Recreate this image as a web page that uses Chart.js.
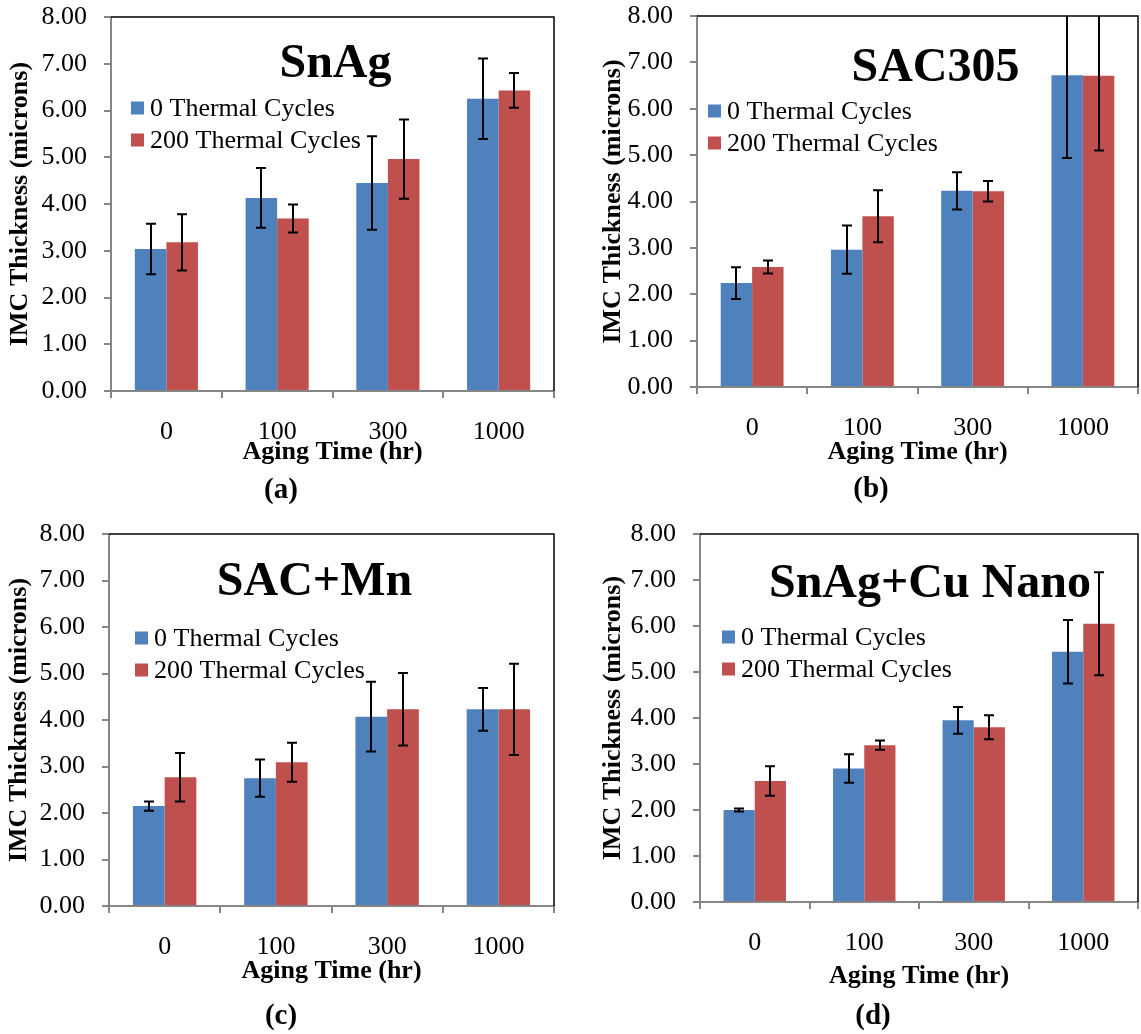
<!DOCTYPE html>
<html>
<head>
<meta charset="utf-8">
<title>IMC Thickness vs Aging Time</title>
<script src="https://cdn.jsdelivr.net/npm/chart.js@4.4.1/dist/chart.umd.min.js"></script>
<style>
  html, body { margin: 0; padding: 0; background: #fff; }
  #page { position: relative; width: 1141px; height: 1034px; overflow: hidden; }
  #page canvas { position: absolute; }
</style>
</head>
<body>
<div id="page">
  <canvas id="chartA" width="570" height="510" style="left:0;top:0"></canvas>
  <canvas id="chartB" width="571" height="510" style="left:570px;top:0"></canvas>
  <canvas id="chartC" width="570" height="524" style="left:0;top:510px"></canvas>
  <canvas id="chartD" width="571" height="524" style="left:570px;top:510px"></canvas>
</div>
<script>
// Categories and series names
const agingTimes = ['0', '100', '300', '1000'];
const seriesNames = ['0 Thermal Cycles', '200 Thermal Cycles'];
const seriesColors = ['#4F81BD', '#C0504D'];

// y axis: 0.00 .. 8.00 step 1
const yMin = 0;
const yMax = 8;
const yStep = 1;

// (a) SnAg
const snAg0 = [3.04, 4.13, 4.45, 6.25];
const snAg0Err = [0.54, 0.64, 1.00, 0.86];
const snAg200 = [3.18, 3.69, 4.96, 6.43];
const snAg200Err = [0.60, 0.30, 0.85, 0.37];

// (b) SAC305
const sac305_0 = [2.24, 2.96, 4.23, 6.72];
const sac305_0Err = [0.34, 0.52, 0.40, 1.78];
const sac305_200 = [2.59, 3.68, 4.22, 6.71];
const sac305_200Err = [0.14, 0.56, 0.22, 1.61];

// (c) SAC+Mn
const sacMn0 = [2.15, 2.75, 4.07, 4.23];
const sacMn0Err = [0.10, 0.40, 0.75, 0.46];
const sacMn200 = [2.77, 3.09, 4.23, 4.23];
const sacMn200Err = [0.52, 0.42, 0.78, 0.98];

// (d) SnAg+Cu Nano
const snAgCu0 = [2.00, 2.90, 3.95, 5.44];
const snAgCu0Err = [0.03, 0.31, 0.29, 0.69];
const snAgCu200 = [2.63, 3.41, 3.80, 6.05];
const snAgCu200Err = [0.32, 0.10, 0.26, 1.12];

const FONT = "'Liberation Serif', 'Times New Roman', serif";
const AXIS_GREY = '#868686';

// Panel layout (pixel boxes and text placement)
const panels = [
  { id: 'chartA', title: 'SnAg', caption: '(a)',
    values: [snAg0, snAg200], errors: [snAg0Err, snAg200Err],
    box: { top: 17, right: 16, yWidth: 111, xHeight: 119, yTitlePad: 5, xTitlePad: 42 },
    deco: { titleDx: 3, titleBase: 60, legendX: 20, legendY: 91, capX: 281, capY: 491 } },
  { id: 'chartB', title: 'SAC305', caption: '(b)',
    values: [sac305_0, sac305_200], errors: [sac305_0Err, sac305_200Err],
    box: { top: 16, right: 3, yWidth: 127, xHeight: 123, yTitlePad: 28, xTitlePad: 42 },
    deco: { titleDx: 18, titleBase: 65, legendX: 11, legendY: 95, capX: 301, capY: 490 } },
  { id: 'chartC', title: 'SAC+Mn', caption: '(c)',
    values: [sacMn0, sacMn200], errors: [sacMn0Err, sacMn200Err],
    box: { top: 24, right: 16, yWidth: 109, xHeight: 128, yTitlePad: 4, xTitlePad: 47 },
    deco: { titleDx: -17, titleBase: 61, legendX: 26, legendY: 104, capX: 281, capY: 507 } },
  { id: 'chartD', title: 'SnAg+Cu Nano', caption: '(d)',
    values: [snAgCu0, snAgCu200], errors: [snAgCu0Err, snAgCu200Err],
    box: { top: 24, right: 3, yWidth: 130, xHeight: 132, yTitlePad: 28, xTitlePad: 42 },
    deco: { titleDx: 11, titleBase: 63, legendX: 22, legendY: 103, capX: 303, capY: 507 } }
];

// Error bars drawn from the y scale
const errorBars = {
  id: 'errorBars',
  afterDatasetsDraw(chart) {
    const { ctx, chartArea, scales: { y } } = chart;
    ctx.save();
    ctx.beginPath();
    ctx.rect(chartArea.left, chartArea.top, chartArea.width, chartArea.height);
    ctx.clip();
    ctx.strokeStyle = '#000';
    ctx.lineWidth = 2;
    chart.data.datasets.forEach((ds, di) => {
      chart.getDatasetMeta(di).data.forEach((bar, i) => {
        const v = ds.data[i];
        const e = ds.errors[i];
        const yTop = y.getPixelForValue(v + e);
        const yBot = y.getPixelForValue(v - e);
        const x = Math.round(bar.x);
        ctx.beginPath();
        ctx.moveTo(x, yTop);
        ctx.lineTo(x, yBot);
        ctx.moveTo(x - 5, yTop);
        ctx.lineTo(x + 5, yTop);
        ctx.moveTo(x - 5, yBot);
        ctx.lineTo(x + 5, yBot);
        ctx.stroke();
      });
    });
    ctx.restore();
  }
};

// Plot border, in-plot title, legend and panel caption
const panelDeco = {
  id: 'panelDeco',
  afterDraw(chart, args, opts) {
    const { ctx, chartArea } = chart;
    const { left, top, right, bottom } = chartArea;
    ctx.save();
    // top and right border of the plot area
    ctx.strokeStyle = '#000';
    ctx.lineWidth = 1.5;
    ctx.beginPath();
    ctx.moveTo(left, top);
    ctx.lineTo(right, top);
    ctx.lineTo(right, bottom);
    ctx.stroke();

    // title
    ctx.fillStyle = '#000';
    ctx.font = 'bold 48px ' + FONT;
    ctx.textAlign = 'center';
    ctx.textBaseline = 'alphabetic';
    ctx.fillText(opts.title, (left + right) / 2 + opts.titleDx, top + opts.titleBase);

    // legend
    ctx.font = '26px ' + FONT;
    ctx.textAlign = 'left';
    ctx.textBaseline = 'middle';
    chart.data.datasets.forEach((ds, i) => {
      const cy = top + opts.legendY + i * 32;
      ctx.fillStyle = ds.backgroundColor;
      ctx.fillRect(left + opts.legendX, cy - 6.5, 13, 13);
      ctx.fillStyle = '#000';
      ctx.fillText(ds.label, left + opts.legendX + 19, cy + 1);
    });

    // caption
    ctx.font = 'bold 29px ' + FONT;
    ctx.textAlign = 'center';
    ctx.fillText(opts.caption, opts.capX, opts.capY);
    ctx.restore();
  }
};

function createPanel(p) {
  const ctx = document.getElementById(p.id);
  new Chart(ctx, {
    type: 'bar',
    data: {
      labels: agingTimes,
      datasets: seriesNames.map((name, i) => ({
        label: name,
        data: p.values[i],
        errors: p.errors[i],
        backgroundColor: seriesColors[i],
        borderWidth: 0,
        categoryPercentage: 0.57,
        barPercentage: 1.0
      }))
    },
    options: {
      responsive: false,
      animation: false,
      layout: { padding: { left: 0, top: p.box.top, right: p.box.right, bottom: 0 } },
      plugins: {
        legend: { display: false },
        tooltip: { enabled: false },
        panelDeco: Object.assign({ title: p.title, caption: p.caption }, p.deco)
      },
      scales: {
        x: {
          grid: { display: true, drawOnChartArea: false, offset: true, tickLength: 7, color: AXIS_GREY, lineWidth: 2 },
          border: { color: AXIS_GREY, width: 2 },
          ticks: { color: '#000', font: { family: FONT, size: 26 }, padding: 19, maxRotation: 0 },
          title: { display: true, text: 'Aging Time (hr)', color: '#000',
                   font: { family: FONT, size: 26, weight: 'bold' }, padding: { top: 0, bottom: p.box.xTitlePad } },
          afterFit: s => {
            s.height = p.box.xHeight;
            s.paddingLeft = 0;
            s.paddingRight = 0;
          }
        },
        y: {
          min: yMin,
          max: yMax,
          grid: { display: true, drawOnChartArea: false, tickLength: 7, color: AXIS_GREY, lineWidth: 2 },
          border: { color: AXIS_GREY, width: 2 },
          ticks: { stepSize: yStep, color: '#000', font: { family: FONT, size: 26 }, padding: 17,
                   callback: v => v.toFixed(2) },
          title: { display: true, text: 'IMC Thickness (microns)', color: '#000',
                   font: { family: FONT, size: 26, weight: 'bold' }, padding: { top: p.box.yTitlePad, bottom: 0 } },
          afterFit: s => {
            s.width = p.box.yWidth;
            s.paddingTop = 0;
            s.paddingBottom = 0;
          }
        }
      }
    },
    plugins: [errorBars, panelDeco]
  });
}

panels.forEach(createPanel);
</script>
</body>
</html>
